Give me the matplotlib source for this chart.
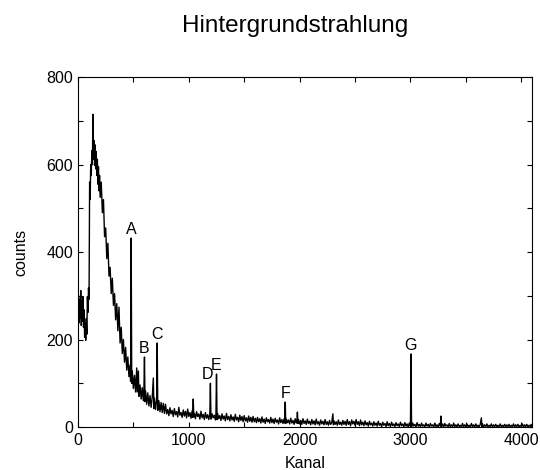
import matplotlib
matplotlib.use("Agg")
import matplotlib.pyplot as plt
from matplotlib.ticker import MultipleLocator

plt.rcParams['font.family'] = ['Liberation Sans', 'DejaVu Sans']

# Spektrum, Paare (Kanal, counts)
anstieg = [(0, 255), (5, 300), (10, 238), (15, 292), (20, 248), (25, 312), (30, 232), (35, 288),
           (40, 242), (45, 298), (50, 228), (55, 268), (60, 205), (65, 238), (70, 198), (75, 248),
           (80, 212), (85, 298), (90, 262), (95, 318), (100, 292), (105, 560), (110, 520),
           (115, 600), (120, 575), (125, 632), (130, 600), (135, 715), (140, 612), (145, 655),
           (150, 598), (155, 645), (160, 590), (165, 630), (170, 575), (175, 612), (180, 555),
           (185, 595), (190, 540), (195, 575), (200, 525)]

abfall = [(210, 560), (220, 490), (230, 520), (240, 435), (250, 455), (260, 385), (270, 420),
          (280, 345), (290, 365), (300, 305), (310, 340), (320, 278), (330, 305), (340, 245),
          (350, 282), (360, 220), (370, 274), (380, 192), (390, 228), (400, 168), (410, 200),
          (420, 148), (430, 182), (440, 130), (450, 160), (460, 115), (470, 142), (475, 104),
          (480, 432), (485, 100), (490, 128), (500, 88), (510, 118), (520, 80), (530, 135),
          (535, 80), (540, 104), (545, 128), (550, 70), (560, 96), (570, 64), (580, 90),
          (590, 60), (595, 84), (600, 160), (605, 58), (610, 82), (620, 52), (630, 78),
          (640, 48), (650, 72), (660, 45), (670, 68), (680, 112), (685, 42), (690, 66),
          (700, 40), (710, 62), (715, 192), (720, 38), (730, 60), (740, 35), (750, 56),
          (760, 33), (770, 54), (780, 31), (790, 52), (800, 30)]

mitte = [(810, 40), (820, 26), (830, 44), (840, 30), (850, 38), (860, 24), (870, 42), (880, 28),
         (890, 35), (900, 23), (910, 45), (920, 27), (930, 33), (940, 22), (950, 39), (960, 25),
         (970, 36), (980, 21), (990, 41), (1000, 24), (1010, 33), (1020, 20), (1030, 37),
         (1035, 22), (1040, 64), (1045, 23), (1050, 31), (1060, 19), (1070, 35), (1080, 24),
         (1090, 30), (1100, 18), (1110, 36), (1120, 21), (1130, 29), (1140, 17), (1150, 33),
         (1160, 20), (1170, 28), (1180, 17), (1190, 31), (1195, 100), (1200, 18), (1210, 30),
         (1220, 21), (1230, 27), (1240, 16), (1245, 29), (1250, 121), (1255, 17), (1260, 31),
         (1270, 19), (1280, 26), (1290, 15), (1300, 30), (1310, 18), (1320, 25), (1330, 14),
         (1340, 31), (1350, 17), (1360, 24), (1370, 14), (1380, 28), (1390, 16), (1400, 23),
         (1410, 13), (1420, 29), (1430, 16), (1440, 22), (1450, 12), (1460, 27), (1470, 15),
         (1480, 24), (1490, 12), (1500, 26), (1510, 14), (1520, 21), (1530, 11), (1540, 25),
         (1550, 13), (1560, 22), (1570, 11), (1580, 24), (1590, 12), (1600, 20)]

auslauf = [(1610, 10), (1620, 22), (1630, 12), (1640, 19), (1650, 9), (1660, 23), (1670, 11),
           (1680, 18), (1690, 8), (1700, 21), (1710, 12), (1720, 17), (1730, 9), (1740, 22),
           (1750, 10), (1760, 18), (1770, 8), (1780, 20), (1790, 11), (1800, 16), (1810, 7),
           (1820, 21), (1830, 10), (1840, 17), (1850, 8), (1860, 19), (1865, 9), (1870, 57),
           (1875, 8), (1880, 18), (1890, 10), (1900, 16), (1910, 7), (1920, 20), (1930, 9),
           (1940, 15), (1950, 6), (1960, 19), (1970, 9), (1975, 12), (1980, 34), (1985, 8),
           (1990, 17), (2000, 7), (2010, 15), (2020, 6), (2030, 19), (2040, 8), (2050, 14),
           (2060, 6), (2070, 18), (2080, 8), (2090, 13), (2100, 5), (2110, 17), (2120, 7),
           (2130, 14), (2140, 5), (2150, 18), (2160, 7), (2170, 12), (2180, 4), (2190, 16),
           (2200, 7), (2210, 13), (2220, 5), (2230, 17), (2240, 6), (2250, 12), (2260, 4),
           (2270, 15), (2280, 6), (2290, 10), (2300, 30), (2305, 5), (2310, 14), (2320, 6),
           (2330, 12), (2340, 4), (2350, 16), (2360, 6), (2370, 11), (2380, 4), (2390, 15),
           (2400, 6), (2410, 13), (2420, 4), (2430, 17), (2440, 6), (2450, 12), (2460, 3),
           (2470, 16), (2480, 7), (2490, 13), (2500, 4), (2510, 17), (2520, 6), (2530, 12),
           (2540, 3), (2550, 16), (2560, 5), (2570, 11), (2580, 3), (2590, 14), (2600, 5),
           (2610, 10), (2620, 2), (2630, 13), (2640, 5), (2650, 9), (2660, 2), (2670, 12),
           (2680, 4), (2690, 9), (2700, 2), (2710, 13), (2720, 4), (2730, 8), (2740, 1),
           (2750, 11), (2760, 4), (2770, 8), (2780, 1), (2790, 12), (2800, 3), (2810, 8),
           (2820, 1), (2830, 11), (2840, 3), (2850, 7), (2860, 1), (2870, 10), (2880, 3),
           (2890, 7), (2900, 1), (2910, 11), (2920, 3), (2930, 7), (2940, 0), (2950, 10),
           (2960, 2), (2970, 7), (2980, 0), (2990, 9), (3000, 2), (3005, 167), (3010, 1),
           (3020, 9), (3030, 2), (3040, 6), (3050, 0), (3060, 10), (3070, 2), (3080, 6),
           (3090, 0), (3100, 9), (3110, 2), (3120, 5), (3130, 0), (3140, 9), (3150, 2),
           (3160, 6), (3170, 0), (3180, 8), (3190, 2), (3200, 5), (3210, 0), (3220, 9),
           (3230, 1), (3240, 5), (3250, 0), (3260, 8), (3270, 2), (3275, 25), (3280, 1),
           (3290, 7), (3300, 0), (3310, 8), (3320, 2), (3330, 5), (3340, 0), (3350, 8),
           (3360, 1), (3370, 5), (3380, 0), (3390, 9), (3400, 1), (3410, 5), (3420, 0),
           (3430, 7), (3440, 1), (3450, 4), (3460, 0), (3470, 8), (3480, 1), (3490, 5),
           (3500, 0), (3510, 7), (3520, 1), (3530, 4), (3540, 0), (3550, 8), (3560, 1),
           (3570, 5), (3580, 0), (3590, 7), (3600, 1), (3610, 4), (3620, 0), (3630, 6),
           (3640, 21), (3645, 1), (3650, 7), (3660, 0), (3670, 5), (3680, 1), (3690, 7),
           (3700, 0), (3710, 4), (3720, 1), (3730, 7), (3740, 0), (3750, 5), (3760, 1),
           (3770, 6), (3780, 0), (3790, 4), (3800, 1), (3810, 7), (3820, 0), (3830, 4),
           (3840, 1), (3850, 6), (3860, 0), (3870, 5), (3880, 1), (3890, 6), (3900, 0),
           (3910, 4), (3920, 1), (3930, 7), (3940, 0), (3950, 5), (3960, 1), (3970, 6),
           (3980, 0), (3990, 4), (4000, 1), (4010, 7), (4020, 0), (4030, 5), (4040, 1),
           (4050, 6), (4060, 0), (4070, 4), (4080, 1), (4090, 6), (4095, 1)]

# markierte Linien
peak_names = ['A', 'B', 'C', 'D', 'E', 'F', 'G']
peak_kanal = [480, 600, 715, 1195, 1250, 1870, 3005]
peak_counts = [432, 160, 192, 100, 121, 57, 167]

kanal, counts = zip(*(anstieg + abfall + mitte + auslauf))

fig = plt.figure(figsize=(5.4, 4.7), dpi=100)
ax = fig.add_axes([0.1444, 0.0915, 0.8406, 0.7445])

ax.plot(kanal, counts, color='black', lw=1.0)

for name, k, c in zip(peak_names, peak_kanal, peak_counts):
    dx = -2 if name == 'D' else 0
    ax.annotate(name, (k, c), xytext=(dx, 1), textcoords='offset points',
                ha='center', va='bottom', fontsize=11.5)

ax.set_xlim(0, 4096)
ax.set_ylim(0, 800)
ax.xaxis.set_major_locator(MultipleLocator(1000))
ax.xaxis.set_minor_locator(MultipleLocator(500))
ax.yaxis.set_major_locator(MultipleLocator(200))
ax.yaxis.set_minor_locator(MultipleLocator(100))
ax.tick_params(which='both', direction='in', top=True, right=True,
               length=3.5, width=0.8, labelsize=11.5)
ax.tick_params(axis='x', pad=4)

ax.set_xlabel('Kanal', fontsize=11.5, labelpad=6)
ax.set_ylabel('counts', fontsize=11.5, labelpad=13)
fig.text(0.546, 0.945, 'Hintergrundstrahlung', ha='center', va='center', fontsize=17.5)

fig.savefig('out.png', dpi=100)
